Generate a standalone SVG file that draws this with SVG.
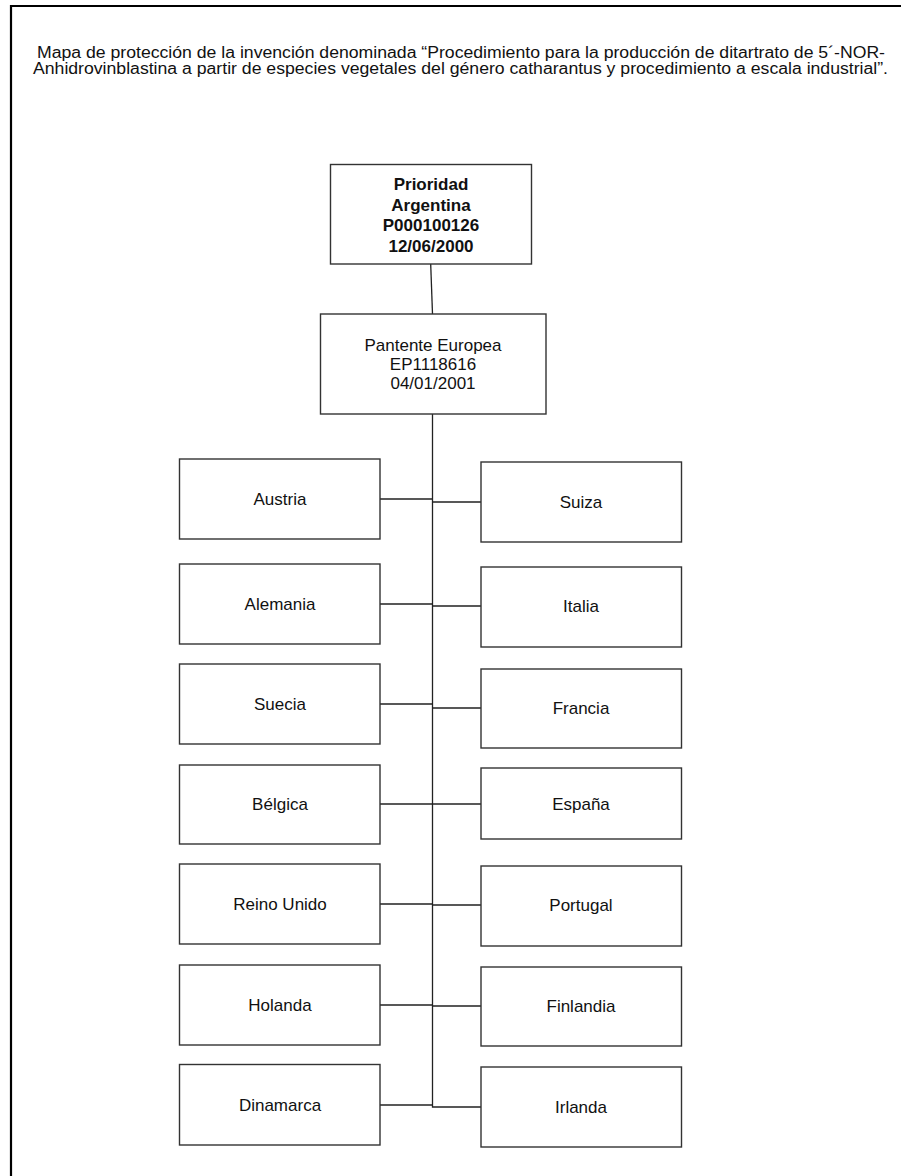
<svg xmlns="http://www.w3.org/2000/svg" width="901" height="1176" viewBox="0 0 901 1176">
<style>
.box{fill:#fff;stroke:#333;stroke-width:1.4}
.lbl{font-family:"Liberation Sans",Arial,sans-serif;font-size:17px;fill:#111;text-anchor:middle}
.b{font-weight:bold}
.title{font-family:"Liberation Sans",Arial,sans-serif;font-size:16px;fill:#111;text-anchor:middle}
.con{fill:none;stroke:#222;stroke-width:1.3}
</style>
<rect width="901" height="1176" fill="#fff"/>
<g id="frame" fill="none" stroke="#000" stroke-width="2.2">
<path d="M11,1176 V6 H901"/>
</g>
<g id="title">
<text class="title" x="461" y="58" textLength="848" lengthAdjust="spacingAndGlyphs">Mapa de protección de la invención denominada “Procedimiento para la producción de ditartrato de 5´-NOR-</text>
<text class="title" x="460.5" y="74" textLength="855" lengthAdjust="spacingAndGlyphs">Anhidrovinblastina a partir de especies vegetales del género catharantus y procedimiento a escala industrial”.</text>
</g>
<g id="connectors">
<path class="con" d="M430.7,264 L432.5,314"/>
<path class="con" d="M432.5,414 V1107 H481"/>
<path class="con" d="M380,499 H432.5 M432.5,502 H481"/>
<path class="con" d="M380,604 H432.5 M432.5,606 H481"/>
<path class="con" d="M380,704 H432.5 M432.5,708 H481"/>
<path class="con" d="M380,804 H481"/>
<path class="con" d="M380,904 H432.5 M432.5,905 H481"/>
<path class="con" d="M380,1005 H432.5 M432.5,1006 H481"/>
<path class="con" d="M380,1105 H432.5"/>
</g>
<g id="prioridad">
<rect class="box" x="330.5" y="164.5" width="201" height="99.5"/>
<text class="lbl b" x="431" y="190">Prioridad</text>
<text class="lbl b" x="431" y="210.5">Argentina</text>
<text class="lbl b" x="431" y="231">P000100126</text>
<text class="lbl b" x="431" y="251.5">12/06/2000</text>
</g>
<g id="europea">
<rect class="box" x="320.5" y="314" width="225.5" height="100"/>
<text class="lbl" x="433" y="351">Pantente Europea</text>
<text class="lbl" x="433" y="370">EP1118616</text>
<text class="lbl" x="433" y="389">04/01/2001</text>
</g>
<g id="austria"><rect class="box" x="179.5" y="459" width="200.5" height="80"/><text class="lbl" x="280" y="505">Austria</text></g>
<g id="alemania"><rect class="box" x="179.5" y="564" width="200.5" height="80"/><text class="lbl" x="280" y="610">Alemania</text></g>
<g id="suecia"><rect class="box" x="179.5" y="664" width="200.5" height="80"/><text class="lbl" x="280" y="710">Suecia</text></g>
<g id="belgica"><rect class="box" x="179.5" y="765" width="200.5" height="79"/><text class="lbl" x="280" y="810">Bélgica</text></g>
<g id="reino-unido"><rect class="box" x="179.5" y="864" width="200.5" height="80"/><text class="lbl" x="280" y="910">Reino Unido</text></g>
<g id="holanda"><rect class="box" x="179.5" y="965" width="200.5" height="80"/><text class="lbl" x="280" y="1011">Holanda</text></g>
<g id="dinamarca"><rect class="box" x="179.5" y="1064.5" width="200.5" height="80.5"/><text class="lbl" x="280" y="1111">Dinamarca</text></g>
<g id="suiza"><rect class="box" x="481" y="462" width="200.5" height="80"/><text class="lbl" x="581" y="508">Suiza</text></g>
<g id="italia"><rect class="box" x="481" y="567" width="200.5" height="80"/><text class="lbl" x="581" y="612">Italia</text></g>
<g id="francia"><rect class="box" x="481" y="669" width="200.5" height="79"/><text class="lbl" x="581" y="714">Francia</text></g>
<g id="espana"><rect class="box" x="481" y="768" width="200.5" height="71"/><text class="lbl" x="581" y="810">España</text></g>
<g id="portugal"><rect class="box" x="481" y="866" width="200.5" height="80"/><text class="lbl" x="581" y="911">Portugal</text></g>
<g id="finlandia"><rect class="box" x="481" y="967" width="200.5" height="79"/><text class="lbl" x="581" y="1012">Finlandia</text></g>
<g id="irlanda"><rect class="box" x="481" y="1067" width="200.5" height="80"/><text class="lbl" x="581" y="1113">Irlanda</text></g>
</svg>
